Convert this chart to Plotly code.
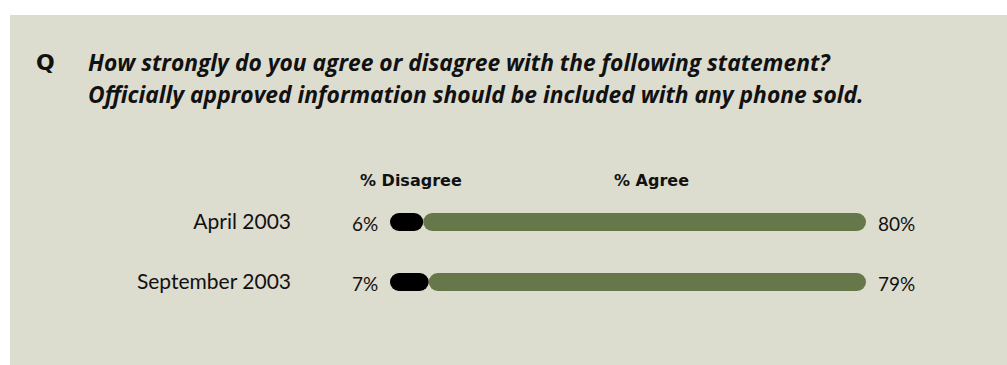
import plotly.graph_objects as go

# Survey results by wave
periods = ["April 2003", "September 2003"]
disagree = [6, 7]
agree = [80, 79]

question_label = "Q"
question_lines = [
    "How strongly do you agree or disagree with the following statement?",
    "Officially approved information should be included with any phone sold.",
]
header_disagree = "% Disagree"
header_agree = "% Agree"

# Styling
PANEL = "#DCDCCF"
GREEN = "#66784A"
BLACK = "#000000"
TEXT = "#111111"
FONT = "Lato"
FONT_BOLD = "DejaVu Sans"
FONT_TITLE = "Open Sans"

# Figure geometry (pixels)
W, H = 1007, 365
ML, MR, MT, MB = 300, 47, 192, 53
PW = W - ML - MR
PH = H - MT - MB
X_RANGE = [-16.26, 102.98]
BAR_PX = 18  # bar thickness in pixels

# pixels per data unit along x, used to keep the rounded caps inside each segment
X_SCALE = PW / (X_RANGE[1] - X_RANGE[0])
CAP = (BAR_PX / 2) / X_SCALE


def fx(px):
    """Pixel x -> paper x."""
    return (px - ML) / PW


def fy(py):
    """Pixel y -> paper y."""
    return 1 - (py - MT) / PH


fig = go.Figure()


def add_pill(y, start, end, color):
    # thick line with round markers at both ends -> pill-shaped bar
    xs = [start + CAP, end - CAP]
    fig.add_trace(go.Scatter(
        x=xs, y=[y, y], mode="lines+markers",
        line=dict(color=color, width=BAR_PX),
        marker=dict(color=color, size=BAR_PX, symbol="circle",
                    line=dict(width=0)),
        hoverinfo="skip", showlegend=False, cliponaxis=False,
    ))


for p, d, a in zip(periods, disagree, agree):
    add_pill(p, 0, d, BLACK)
    add_pill(p, d, d + a, GREEN)

annotations = []
# value labels at both ends of each row
for p, d, a in zip(periods, disagree, agree):
    annotations.append(dict(
        x=0, y=p, xref="x", yref="y", text=f"{d}%", showarrow=False,
        xanchor="right", yanchor="middle", xshift=-10, yshift=-1,
        font=dict(family=FONT, size=19, color=TEXT),
    ))
    annotations.append(dict(
        x=d + a, y=p, xref="x", yref="y", text=f"{a}%", showarrow=False,
        xanchor="left", yanchor="middle", xshift=10, yshift=-1,
        font=dict(family=FONT, size=19, color=TEXT),
    ))

# column headers
for txt, cx in ((header_disagree, 411), (header_agree, 651)):
    annotations.append(dict(
        x=fx(cx), y=fy(180), xref="paper", yref="paper", text=txt,
        showarrow=False, xanchor="center", yanchor="middle",
        font=dict(family=FONT_BOLD, size=16, color=TEXT, weight="bold"),
    ))

# question block
annotations.append(dict(
    x=fx(34), y=fy(63), xref="paper", yref="paper", text=question_label,
    showarrow=False, xanchor="left", yanchor="middle",
    font=dict(family=FONT_BOLD, size=22, color=TEXT, weight="bold"),
))
for i, line in enumerate(question_lines):
    annotations.append(dict(
        x=fx(86), y=fy(63 + 31 * i), xref="paper", yref="paper", text=line,
        showarrow=False, xanchor="left", yanchor="middle",
        font=dict(family=FONT_TITLE, size=22.8, color=TEXT, weight="bold",
                  style="italic"),
    ))

fig.update_layout(
    width=W, height=H,
    margin=dict(l=ML, r=MR, t=MT, b=MB, pad=0),
    paper_bgcolor="white",
    plot_bgcolor="rgba(0,0,0,0)",
    showlegend=False,
    annotations=annotations,
    shapes=[dict(
        type="rect", xref="paper", yref="paper",
        x0=fx(10), x1=fx(W + 5), y0=fy(H + 5), y1=fy(15),
        fillcolor=PANEL, line=dict(width=0), layer="below",
    )],
    xaxis=dict(range=X_RANGE, visible=False, fixedrange=True),
    yaxis=dict(
        categoryorder="array", categoryarray=periods,
        range=[1.5, -0.5], showgrid=False, zeroline=False, showline=False,
        ticks="", ticklabelstandoff=8,
        tickfont=dict(family=FONT, size=21, color=TEXT),
        fixedrange=True,
    ),
)

fig.write_html("out.html")
